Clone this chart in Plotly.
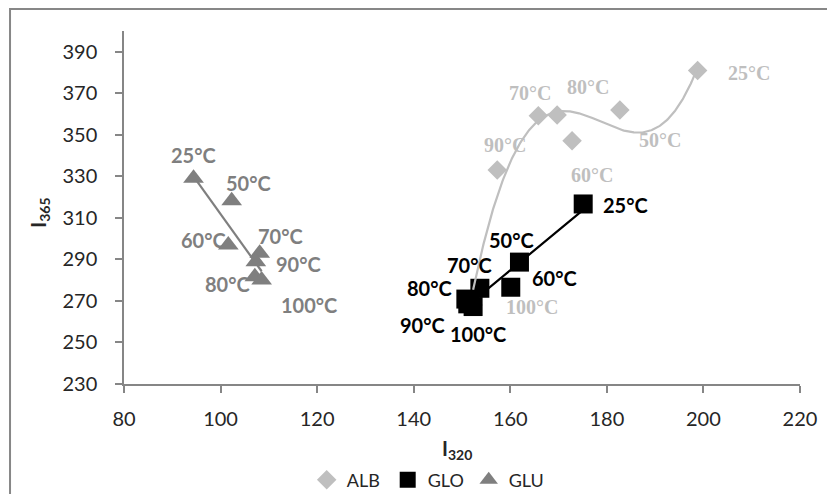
import numpy as np
import plotly.graph_objects as go

# ---------------- data ----------------
temps = ["25°C", "50°C", "60°C", "70°C", "80°C", "90°C", "100°C"]

alb_x = [198.8, 182.7, 172.8, 165.8, 169.7, 157.3, 152.3]
alb_y = [381.0, 362.0, 347.1, 359.2, 359.6, 333.1, 268.0]

glo_x = [175.1, 161.9, 160.1, 153.7, 150.8, 151.2, 152.3]
glo_y = [316.7, 288.7, 276.6, 276.1, 270.9, 268.6, 267.3]

glu_x = [94.4, 102.3, 101.6, 108.1, 107.1, 107.3, 108.5]
glu_y = [329.1, 318.2, 297.0, 293.0, 281.7, 288.9, 280.1]

x_ticks = [80, 100, 120, 140, 160, 180, 200, 220]
y_ticks = [230, 250, 270, 290, 310, 330, 350, 370, 390]

# trendline types (polynomial order) as in the original chart
alb_order, glo_order, glu_order = 3, 1, 1

# ---------------- style ----------------
C_ALB = "#BFBFBF"
C_GLO = "#000000"
C_GLU = "#7F7F7F"
AX = "#868686"
TXT = "#262626"
FONT = "Lato"

# label offsets in px (dx right, dy down) -- placement only
alb_off = [(51, 3), (40, 30), (20, 34), (-8, -23), (31, -28), (8, -25), (59, 2)]
glo_off = [(42, 1), (-8, -22), (44, -9), (-10, -23), (-36, -11), (-45, 21), (5, 27)]
glu_off = [(0, -23), (17, -18), (-25, -5), (21, -17), (-27, 7), (43, 2), (47, 25)]


def trend(x, y, deg, n=300):
    x = np.asarray(x, float)
    y = np.asarray(y, float)
    p = np.polynomial.polynomial.Polynomial.fit(x, y, deg)
    xs = np.linspace(x.min(), x.max(), n)
    return xs, p(xs)


fig = go.Figure()

# markers
fig.add_trace(go.Scatter(x=alb_x, y=alb_y, mode="markers", name="ALB",
                         marker=dict(symbol="diamond", size=15, color=C_ALB)))
fig.add_trace(go.Scatter(x=glo_x, y=glo_y, mode="markers", name="GLO",
                         marker=dict(symbol="square", size=19, color=C_GLO)))
fig.add_trace(go.Scatter(x=glu_x, y=glu_y, mode="markers", name="GLU",
                         marker=dict(symbol="triangle-up", size=18, color=C_GLU)))

# trendlines (drawn on top of markers, as in the original)
for xs_, ys_, order, col in ((alb_x, alb_y, alb_order, C_ALB),
                             (glo_x, glo_y, glo_order, C_GLO),
                             (glu_x, glu_y, glu_order, C_GLU)):
    tx, ty = trend(xs_, ys_, order)
    fig.add_trace(go.Scatter(x=tx, y=ty, mode="lines", showlegend=False, hoverinfo="skip",
                             line=dict(color=col, width=2.2)))

annotations = []


def add_labels(xs, ys, offs, color, family):
    for t, x, y, (dx, dy) in zip(temps, xs, ys, offs):
        annotations.append(dict(x=x, y=y, xref="x", yref="y", text="<b>%s</b>" % t,
                                showarrow=False, xshift=dx, yshift=-dy,
                                xanchor="center", yanchor="middle",
                                font=dict(family=family, size=20, color=color)))


add_labels(alb_x, alb_y, alb_off, C_ALB, "Liberation Serif")
add_labels(glo_x, glo_y, glo_off, C_GLO, FONT)
add_labels(glu_x, glu_y, glu_off, C_GLU, FONT)

# axis titles
annotations.append(dict(x=0.4926, y=-0.185, xref="paper", yref="paper",
                        text="<b>I<sub>320</sub></b>", showarrow=False,
                        xanchor="center", yanchor="middle",
                        font=dict(family=FONT, size=20, color=TXT)))
annotations.append(dict(x=-0.1243, y=0.485, xref="paper", yref="paper",
                        text="<b>I<sub>365</sub></b>", showarrow=False, textangle=-90,
                        xanchor="center", yanchor="middle",
                        font=dict(family=FONT, size=20, color=TXT)))

fig.update_layout(
    width=827, height=494,
    margin=dict(l=124, r=27, t=31, b=110, autoexpand=False),
    paper_bgcolor="white", plot_bgcolor="white",
    font=dict(family=FONT, size=20, color=TXT),
    annotations=annotations,
    showlegend=True,
    legend=dict(orientation="h", x=0.45, xanchor="center", y=-0.272, yanchor="middle",
                font=dict(family=FONT, size=18, color=TXT),
                itemwidth=30, entrywidth=36, bgcolor="rgba(0,0,0,0)"),
    shapes=[dict(type="rect", xref="paper", yref="paper",
                 x0=-0.1686, x1=1.2, y0=-0.5, y1=1.0623,
                 line=dict(color="#878787", width=2), fillcolor="rgba(0,0,0,0)",
                 layer="below")],
)

fig.update_xaxes(range=[80, 220], tickvals=x_ticks, showgrid=False, zeroline=False,
                 showline=True, linecolor=AX, linewidth=1.5, ticks="outside",
                 ticklen=7, tickcolor=AX, tickwidth=1.5, ticklabelstandoff=9,
                 tickfont=dict(family=FONT, size=20, color=TXT))
fig.update_yaxes(range=[230, 400], tickvals=y_ticks, showgrid=False, zeroline=False,
                 showline=True, linecolor=AX, linewidth=1.5, ticks="outside",
                 ticklen=7, tickcolor=AX, tickwidth=1.5, ticklabelstandoff=14,
                 tickfont=dict(family=FONT, size=20, color=TXT))

fig.write_html("out.html")
